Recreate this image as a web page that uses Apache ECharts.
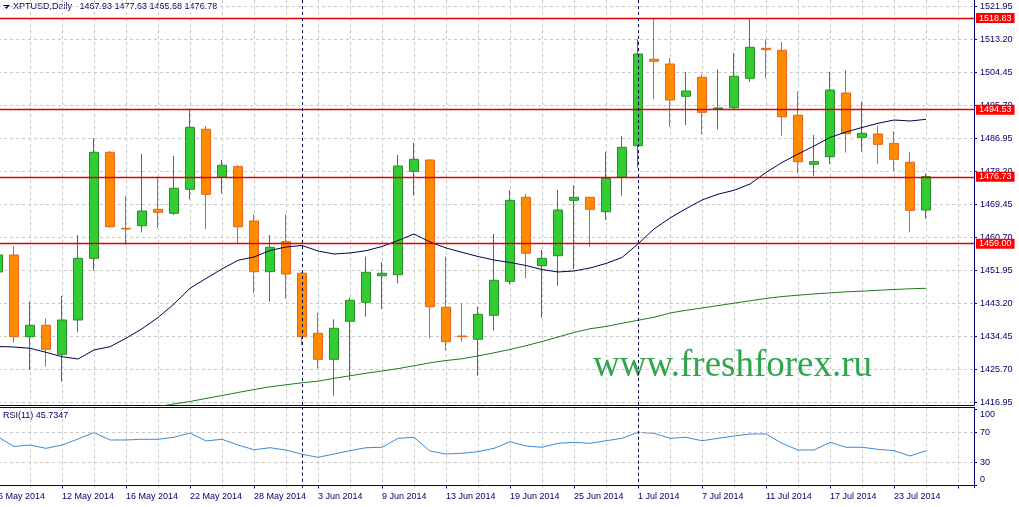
<!DOCTYPE html>
<html><head><meta charset="utf-8">
<script src="https://cdn.jsdelivr.net/npm/echarts@6/dist/echarts.min.js"></script>
<style>html,body{margin:0;padding:0;background:#fff;overflow:hidden}#c{width:1019px;height:507px}</style>
</head><body><div id="c"></div>
<script>
const dates = ['6 May 2014','7 May 2014','8 May 2014','9 May 2014','12 May 2014','13 May 2014','14 May 2014','15 May 2014','16 May 2014','19 May 2014','20 May 2014','21 May 2014','22 May 2014','23 May 2014','26 May 2014','27 May 2014','28 May 2014','29 May 2014','30 May 2014',
'2 Jun 2014','3 Jun 2014','4 Jun 2014','5 Jun 2014','6 Jun 2014','9 Jun 2014','10 Jun 2014','11 Jun 2014','12 Jun 2014','13 Jun 2014','16 Jun 2014','17 Jun 2014','18 Jun 2014','19 Jun 2014','20 Jun 2014','23 Jun 2014','24 Jun 2014','25 Jun 2014','26 Jun 2014','27 Jun 2014','30 Jun 2014',
'1 Jul 2014','2 Jul 2014','3 Jul 2014','4 Jul 2014','7 Jul 2014','8 Jul 2014','9 Jul 2014','10 Jul 2014','11 Jul 2014','14 Jul 2014','15 Jul 2014','16 Jul 2014','17 Jul 2014','18 Jul 2014','21 Jul 2014','22 Jul 2014','23 Jul 2014','24 Jul 2014','25 Jul 2014'];
const blanks = ['', ' ', '  '];
const opens  = [1451.5,1456.0,1434.33,1437.36,1429.67,1438.76,1455.12,1483.23,1463.08,1463.77,1468.12,1467.06,1473.42,1489.33,1476.6,1479.41,1465.02,1451.57,1459.53,
1451.15,1435.23,1428.34,1438.42,1443.46,1450.51,1450.78,1478.19,1481.19,1442.13,1434.52,1433.64,1440.01,1449.02,1471.3,1453.16,1455.81,1470.5,1471.3,1467.48,1476.6,
1484.98,1507.89,1506.65,1498.08,1503.12,1494.72,1495.06,1502.86,1510.81,1510.28,1493.04,1480.05,1482.07,1498.96,1487.21,1488.09,1485.62,1480.58,1467.93];
const highs  = [1458.0,1458.39,1443.62,1439.21,1445.13,1461.3,1486.95,1483.58,1471.64,1482.78,1476.76,1482.25,1494.45,1490.21,1481.19,1479.87,1466.79,1461.3,1466.79,
1451.49,1440.7,1438.95,1444.78,1455.55,1454.14,1482.52,1485.78,1481.38,1455.55,1443.19,1442.29,1461.57,1473.24,1472.17,1457.32,1473.24,1474.56,1471.4,1483.39,1487.56,
1513.2,1518.7,1508.32,1504.53,1503.92,1505.24,1509.64,1518.6,1513.2,1512.48,1499.3,1487.82,1504.61,1505.06,1496.65,1490.21,1488.88,1483.39,1477.63];
const lows   = [1449.0,1432.74,1425.5,1426.38,1422.4,1435.5,1451.84,1463.3,1458.65,1462.02,1463.08,1466.61,1470.77,1462.82,1472.36,1458.92,1445.84,1443.62,1444.33,
1432.13,1425.95,1418.69,1422.85,1439.64,1441.68,1448.49,1471.72,1433.91,1430.62,1433.01,1423.99,1435.92,1448.23,1449.82,1439.37,1447.86,1452.21,1458.2,1465.28,1471.72,
1479.15,1497.29,1490.02,1490.47,1488.01,1489.33,1494.45,1501.95,1502.86,1487.64,1477.66,1476.95,1480.13,1483.13,1483.39,1480.05,1478.35,1462.02,1465.68];
const closes = [1456.0,1434.33,1437.36,1430.99,1438.76,1455.12,1483.23,1463.5,1462.9,1467.67,1467.32,1473.69,1489.86,1472.1,1479.79,1463.5,1451.57,1458.04,1450.96,
1434.33,1428.34,1436.56,1443.99,1451.41,1451.15,1479.6,1481.38,1442.29,1433.01,1434.35,1440.27,1449.29,1470.5,1456.45,1455.12,1467.93,1471.3,1468.12,1476.34,1484.56,
1509.3,1507.36,1497.1,1499.49,1493.84,1495.0,1503.39,1511.08,1510.44,1492.67,1480.74,1480.74,1499.75,1488.17,1488.27,1485.35,1481.38,1467.85,1476.78];
const maFast = [1431.74,1431.6,1431.26,1430.2,1429.03,1428.42,1430.81,1431.68,1433.91,1436.43,1439.43,1443.01,1447.17,1449.77,1452.29,1454.59,1455.47,1457.19,1458.12,
1458.52,1457.06,1456.26,1456.53,1457.14,1458.25,1459.84,1461.57,1459.45,1457.86,1456.71,1455.6,1454.67,1454.01,1453.21,1452.15,1451.49,1451.76,1452.55,1453.75,1455.34,
1458.92,1462.89,1465.81,1468.28,1470.58,1472.12,1473.16,1474.83,1477.88,1480.53,1482.78,1484.9,1487.16,1488.62,1489.81,1490.92,1491.8,1491.53,1491.98];
const maSlow = [null,null,null,null,null,null,null,null,null,null,1415.8,
1416.49,1417.15,1417.95,1418.74,1419.54,1420.33,1421.05,1421.58,1422.11,1422.53,1423.3,1423.97,1424.63,1425.24,1425.87,1426.62,1427.41,1428.02,1428.47,1429.22,
1430.06,1430.94,1431.95,1433.06,1434.25,1435.45,1436.43,1437.04,1437.89,1438.68,1439.48,1440.62,1441.33,1441.94,1442.58,1443.22,1443.85,1444.49,1444.97,1445.34,
1445.66,1445.95,1446.24,1446.4,1446.64,1446.85,1447.04,1447.17];
const rsi = [63.8,51.3,53.3,48.9,53.3,61.2,69.7,59.9,59.9,60.8,60.8,63.4,69.1,58.6,60.8,53.3,47.0,49.7,46.7,
41.1,37.1,41.4,45.8,49.7,50.3,62.1,63.4,45.4,41.4,42.4,44.5,48.9,57.6,52.0,50.3,55.5,56.8,55.5,58.9,62.1,
70.0,68.7,62.1,63.4,58.9,62.1,65.1,67.8,67.8,55.5,46.7,46.7,56.8,50.3,50.3,47.6,45.8,38.8,45.7347];
const levels = [1518.83, 1494.53, 1476.73, 1459.00];
const priceTicks = [1416.95,1425.70,1434.45,1443.20,1451.95,1460.70,1469.45,1478.20,1486.95,1495.70,1504.45,1513.20,1521.95];
const rsiTicks = [0, 30, 70, 100];
const rsiLevels = [30, 70];
const separators = ['2 Jun 2014', '1 Jul 2014'];

const NAVY = '#00006e';
const GRID = '#c8c8c8';
const RED = '#e00000';
const FONT = '"Liberation Sans", Arial, sans-serif';
const cats = dates.concat(blanks);
const ohlc = opens.map((o, i) => [o, closes[i], lows[i], highs[i]]);
const PMIN = 1416.22, PMAX = 1523.62;

const chart = echarts.init(document.getElementById('c'), null, {renderer: 'canvas'});
const sepItem = d => ({xAxis: d, lineStyle: {color: '#000040', type: [3, 3], width: 1}, label: {show: false}});
chart.setOption({
  animation: false,
  backgroundColor: '#ffffff',
  grid: [
    {left: -2, right: 45, top: 0, height: 405, outerBoundsMode: 'none', containLabel: false},
    {left: -2, right: 45, top: 407.3, height: 80.4, outerBoundsMode: 'none', containLabel: false}
  ],
  xAxis: [
    {gridIndex: 0, type: 'category', data: cats, boundaryGap: false,
     axisLine: {lineStyle: {color: NAVY}}, axisTick: {show: false}, axisLabel: {show: false},
     splitLine: {show: true, interval: 1, lineStyle: {color: GRID, type: [3, 3]}}},
    {gridIndex: 1, type: 'category', data: cats, boundaryGap: false,
     axisLine: {lineStyle: {color: NAVY}},
     axisTick: {show: true, interval: 3, length: 3, lineStyle: {color: NAVY}},
     axisLabel: {interval: 3, align: 'left', margin: 4, padding: 0, fontSize: 9, color: NAVY, fontFamily: FONT, hideOverlap: false},
     splitLine: {show: true, interval: 1, lineStyle: {color: GRID, type: [3, 3]}}},
    {gridIndex: 1, type: 'category', data: cats, boundaryGap: false, position: 'top',
     axisLine: {lineStyle: {color: NAVY}}, axisTick: {show: false}, axisLabel: {show: false}, splitLine: {show: false}}
  ],
  yAxis: [
    {gridIndex: 0, type: 'value', position: 'right', min: PMIN, max: PMAX,
     axisLine: {show: true, lineStyle: {color: NAVY}},
     axisTick: {show: true, length: 3, customValues: priceTicks, lineStyle: {color: NAVY}},
     axisLabel: {customValues: priceTicks, formatter: v => v.toFixed(2), margin: 6, fontSize: 9, color: NAVY, fontFamily: FONT},
     splitLine: {show: true, lineStyle: {color: GRID, type: [3, 3]}}},
    {gridIndex: 1, type: 'value', position: 'right', min: -2.9, max: 102.9,
     axisLine: {show: true, lineStyle: {color: NAVY}},
     axisTick: {show: true, length: 3, customValues: rsiTicks, lineStyle: {color: NAVY}},
     axisLabel: {customValues: rsiTicks, margin: 6, fontSize: 9, color: NAVY, fontFamily: FONT,
       formatter: v => v === 100 ? '{d|100}' : (v === 0 ? '{u|0}' : String(v)),
       rich: {d: {padding: [11, 0, 0, 0], fontSize: 9, color: NAVY, fontFamily: FONT},
              u: {padding: [0, 0, 11, 0], fontSize: 9, color: NAVY, fontFamily: FONT}}},
     splitLine: {show: false}},
    {gridIndex: 0, type: 'value', position: 'right', min: PMIN, max: PMAX, z: 5,
     axisLine: {show: false},
     axisTick: {show: false, customValues: levels},
     axisLabel: {customValues: levels, formatter: v => v.toFixed(2), margin: 2, fontSize: 9, color: '#ffffff', fontFamily: FONT,
                 backgroundColor: '#ff0000', padding: [1, 3, 0, 3]},
     splitLine: {show: true, lineStyle: {color: RED, type: 'solid', width: 1.4, opacity: 1}}}
  ],
  graphic: [
    {type: 'polygon', shape: {points: [[3, 5], [10, 5], [6.5, 9]]}, style: {fill: NAVY}},
    {type: 'text', x: 13, y: 7, style: {text: 'XPTUSD,Daily   1467.93 1477.63 1465.68 1476.78', font: '9px ' + FONT, fill: NAVY, align: 'left', verticalAlign: 'middle'}},
    {type: 'text', x: 3, y: 416, style: {text: 'RSI(11) 45.7347', font: '9px ' + FONT, fill: NAVY, align: 'left', verticalAlign: 'middle'}},
    {type: 'text', x: 593, y: 366, z: 1,
     style: {text: 'www.freshforex.ru', font: '37px "Liberation Serif", "Times New Roman", serif', fill: '#30a54c', align: 'left', verticalAlign: 'middle'}}
  ],
  series: [
    {type: 'candlestick', xAxisIndex: 0, yAxisIndex: 0, data: ohlc, barWidth: 10, clip: true,
     itemStyle: {color: '#32cd32', color0: '#ff8c00', borderColor: '#2b8a2b', borderColor0: '#e8601c', borderWidth: 1},
     markLine: {symbol: 'none', silent: true, animation: false, data: separators.map(sepItem)}},
    {type: 'line', xAxisIndex: 0, yAxisIndex: 0, data: maFast, showSymbol: false, symbol: 'none',
     lineStyle: {color: '#000050', width: 1}, silent: true},
    {type: 'line', xAxisIndex: 0, yAxisIndex: 0, data: maSlow, showSymbol: false, symbol: 'none',
     lineStyle: {color: '#1e7a1e', width: 1}, silent: true},
    {type: 'line', xAxisIndex: 1, yAxisIndex: 1, data: rsi, showSymbol: false, symbol: 'none',
     lineStyle: {color: '#3a8ad8', width: 1}, silent: true,
     markLine: {symbol: 'none', silent: true, animation: false, label: {show: false},
       lineStyle: {color: GRID, type: [3, 3], width: 1},
       data: rsiLevels.map(v => ({yAxis: v})).concat(separators.map(sepItem))}}
  ]
});
</script></body></html>
